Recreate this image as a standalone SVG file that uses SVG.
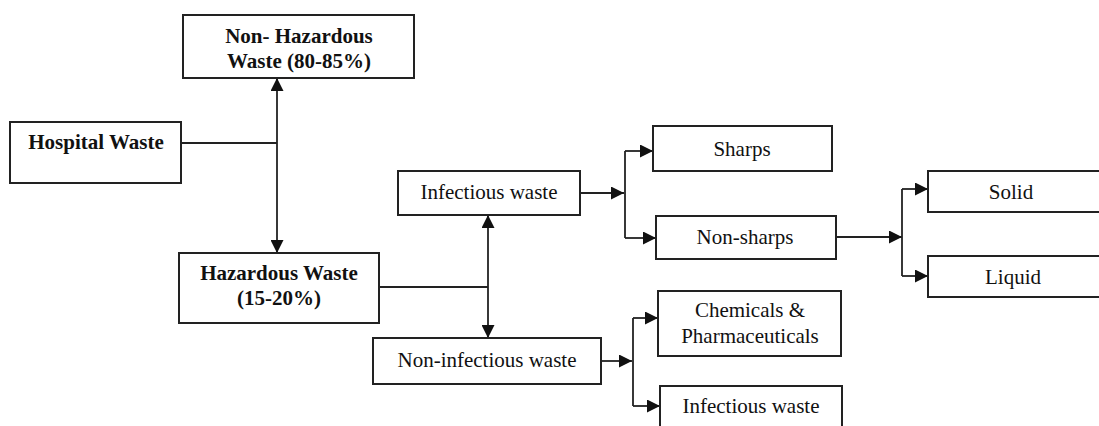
<svg xmlns="http://www.w3.org/2000/svg" width="1099" height="426" viewBox="0 0 1099 426">
<style>
.box{fill:#fff;stroke:#222;stroke-width:2}
.ln{fill:none;stroke:#222;stroke-width:1.8}
.b{font-family:"Liberation Serif","Times New Roman",serif;font-size:21px;font-weight:bold;fill:#111;text-anchor:middle}
.r{font-family:"Liberation Serif","Times New Roman",serif;font-size:21px;fill:#111;text-anchor:middle}
</style>
<defs>
<marker id="ah" markerUnits="userSpaceOnUse" markerWidth="14" markerHeight="13" refX="13" refY="6.5" orient="auto">
<path d="M0,0 L13,6.5 L0,13 Z" fill="#111"/>
</marker>
</defs>
<rect width="1099" height="426" fill="#fff"/>
<g id="connectors">
<path class="ln" d="M181,143 H277"/>
<path class="ln" d="M277,143 V78" marker-end="url(#ah)"/>
<path class="ln" d="M277,143 V253" marker-end="url(#ah)"/>
<path class="ln" d="M379,287 H488"/>
<path class="ln" d="M488,287 V215" marker-end="url(#ah)"/>
<path class="ln" d="M488,287 V338" marker-end="url(#ah)"/>
<path class="ln" d="M580,193 H624" marker-end="url(#ah)"/>
<path class="ln" d="M625,151 V238"/>
<path class="ln" d="M625,151 H653" marker-end="url(#ah)"/>
<path class="ln" d="M625,238 H656" marker-end="url(#ah)"/>
<path class="ln" d="M836,237 H902" marker-end="url(#ah)"/>
<path class="ln" d="M902,189 V276"/>
<path class="ln" d="M902,189 H928" marker-end="url(#ah)"/>
<path class="ln" d="M902,276 H928" marker-end="url(#ah)"/>
<path class="ln" d="M601,361 H632" marker-end="url(#ah)"/>
<path class="ln" d="M633,318 V406"/>
<path class="ln" d="M633,318 H658" marker-end="url(#ah)"/>
<path class="ln" d="M633,406 H660" marker-end="url(#ah)"/>
</g>
<g id="non-hazardous">
<rect class="box" x="183" y="15" width="231" height="63"/>
<text class="b" x="299" y="43">Non- Hazardous</text>
<text class="b" x="299" y="68">Waste (80-85%)</text>
</g>
<g id="hospital">
<rect class="box" x="10" y="122" width="171" height="61"/>
<text class="b" x="96" y="149">Hospital Waste</text>
</g>
<g id="hazardous">
<rect class="box" x="179" y="253" width="200" height="70"/>
<text class="b" x="279" y="280">Hazardous Waste</text>
<text class="b" x="279" y="305">(15-20%)</text>
</g>
<g id="infectious">
<rect class="box" x="398" y="171" width="182" height="44"/>
<text class="r" x="489" y="199">Infectious waste</text>
</g>
<g id="non-infectious">
<rect class="box" x="373" y="338" width="228" height="46"/>
<text class="r" x="487" y="367">Non-infectious waste</text>
</g>
<g id="sharps">
<rect class="box" x="653" y="126" width="179" height="45"/>
<text class="r" x="742" y="156">Sharps</text>
</g>
<g id="non-sharps">
<rect class="box" x="656" y="216" width="180" height="43"/>
<text class="r" x="745" y="244">Non-sharps</text>
</g>
<g id="solid">
<rect class="box" x="928" y="171" width="185" height="41"/>
<text class="r" x="1011" y="199">Solid</text>
</g>
<g id="liquid">
<rect class="box" x="928" y="256" width="185" height="41"/>
<text class="r" x="1013" y="284">Liquid</text>
</g>
<g id="chemicals">
<rect class="box" x="658" y="291" width="183" height="65"/>
<text class="r" x="750" y="317">Chemicals &amp;</text>
<text class="r" x="750" y="343">Pharmaceuticals</text>
</g>
<g id="infectious-2">
<rect class="box" x="660" y="386" width="182" height="50"/>
<text class="r" x="751" y="413">Infectious waste</text>
</g>
</svg>
